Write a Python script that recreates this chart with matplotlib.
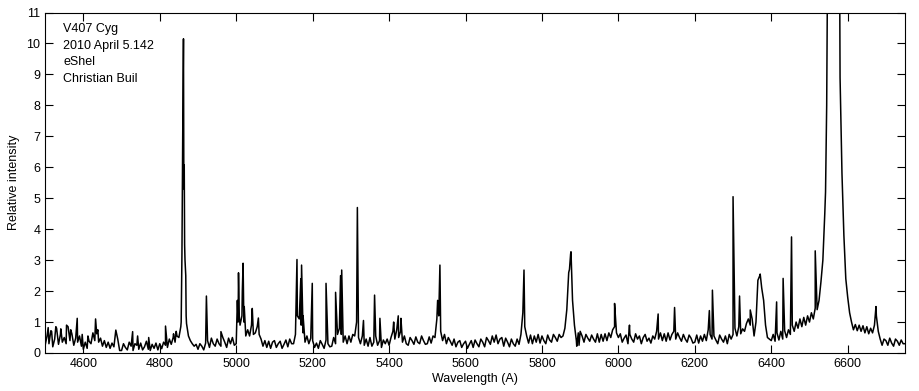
import matplotlib
matplotlib.use("Agg")
import matplotlib.pyplot as plt
import numpy as np

# Spectre V407 Cyg
WL_START, WL_END, WL_STEP = 4500, 6750, 5

# continuum + raies larges, un point tous les 5 A (10 valeurs par ligne = 50 A)
continuum = [
    0.25, 0.55, 0.30, 0.72, 0.20, 0.45, 0.80, 0.28, 0.60, 0.35,  # 4500
    0.50, 0.30, 0.85, 0.40, 0.62, 0.25, 0.48, 0.35, 0.55, 0.22,  # 4550
    0.12, 0.35, 0.15, 0.38, 0.30, 0.65, 0.40, 0.62, 0.35, 0.48,  # 4600
    0.22, 0.40, 0.18, 0.35, 0.15, 0.32, 0.20, 0.74, 0.45, 0.08,  # 4650
    0.08, 0.30, 0.18, 0.10, 0.35, 0.22, 0.08, 0.30, 0.25, 0.12,  # 4700
    0.32, 0.10, 0.20, 0.38, 0.12, 0.08, 0.28, 0.15, 0.32, 0.10,  # 4750
    0.30, 0.14, 0.35, 0.25, 0.18, 0.45, 0.28, 0.50, 0.35, 0.55,  # 4800
    0.50, 0.85, 7.00, 3.50, 0.95, 0.55, 0.40, 0.30, 0.22, 0.28,  # 4850
    0.12, 0.30, 0.22, 0.10, 0.32, 0.40, 0.18, 0.48, 0.30, 0.22,  # 4900
    0.45, 0.30, 0.22, 0.50, 0.35, 0.18, 0.48, 0.30, 0.50, 0.25,  # 4950
    0.30, 1.00, 0.90, 1.20, 1.00, 0.55, 0.75, 0.55, 0.90, 0.60,  # 5000
    0.65, 0.85, 0.60, 0.45, 0.22, 0.40, 0.18, 0.38, 0.15, 0.35,  # 5050
    0.40, 0.18, 0.30, 0.38, 0.15, 0.28, 0.42, 0.20, 0.45, 0.30,  # 5100
    0.30, 0.60, 1.20, 1.10, 0.90, 0.65, 0.35, 0.55, 0.30, 0.48,  # 5150
    0.40, 0.18, 0.32, 0.15, 0.40, 0.28, 0.15, 0.42, 0.30, 0.20,  # 5200
    0.22, 0.50, 0.30, 0.60, 0.80, 0.60, 0.35, 0.55, 0.30, 0.55,  # 5250
    0.35, 0.60, 0.55, 1.00, 0.50, 0.30, 0.55, 0.25, 0.45, 0.22,  # 5300
    0.50, 0.22, 0.35, 0.55, 0.25, 0.40, 0.18, 0.42, 0.30, 0.45,  # 5350
    0.25, 0.50, 0.70, 0.45, 0.75, 0.50, 0.70, 0.35, 0.55, 0.30,  # 5400
    0.25, 0.50, 0.40, 0.28, 0.52, 0.35, 0.30, 0.55, 0.40, 0.28,  # 5450
    0.30, 0.52, 0.32, 0.55, 0.50, 1.10, 1.20, 0.70, 0.40, 0.60,  # 5500
    0.30, 0.50, 0.38, 0.25, 0.45, 0.20, 0.35, 0.40, 0.18, 0.30,  # 5550
    0.38, 0.15, 0.28, 0.40, 0.18, 0.42, 0.30, 0.20, 0.45, 0.35,  # 5600
    0.20, 0.50, 0.40, 0.28, 0.55, 0.35, 0.58, 0.30, 0.45, 0.50,  # 5650
    0.22, 0.48, 0.35, 0.20, 0.45, 0.30, 0.22, 0.45, 0.28, 0.60,  # 5700
    1.30, 0.85, 0.55, 0.32, 0.58, 0.30, 0.55, 0.35, 0.60, 0.32,  # 5750
    0.55, 0.40, 0.30, 0.58, 0.42, 0.35, 0.60, 0.50, 0.38, 0.60,  # 5800
    0.50, 0.55, 0.80, 1.40, 2.60, 3.20, 1.70, 0.90, 0.40, 0.65,  # 5850
    0.70, 0.55, 0.35, 0.60, 0.48, 0.38, 0.58, 0.45, 0.35, 0.62,  # 5900
    0.35, 0.60, 0.38, 0.62, 0.40, 0.65, 0.50, 0.75, 0.85, 0.65,  # 5950
    0.50, 0.62, 0.35, 0.48, 0.58, 0.30, 0.60, 0.45, 0.35, 0.62,  # 6000
    0.45, 0.55, 0.30, 0.50, 0.60, 0.38, 0.48, 0.32, 0.55, 0.45,  # 6050
    0.70, 0.45, 0.65, 0.40, 0.62, 0.38, 0.65, 0.42, 0.60, 0.70,  # 6100
    0.45, 0.65, 0.50, 0.38, 0.60, 0.45, 0.35, 0.58, 0.48, 0.32,  # 6150
    0.35, 0.58, 0.32, 0.55, 0.38, 0.60, 0.40, 0.75, 0.60, 0.45,  # 6200
    0.55, 0.42, 0.30, 0.58, 0.45, 0.35, 0.55, 0.30, 0.60, 0.45,  # 6250
    0.60, 0.80, 0.55, 0.85, 0.62, 0.78, 0.70, 0.95, 1.10, 0.90,  # 6300
    1.10, 0.55, 1.00, 2.35, 2.50, 2.10, 1.70, 0.90, 0.50, 0.45,  # 6350
    0.40, 0.60, 0.38, 0.65, 0.42, 0.70, 0.45, 0.72, 0.50, 0.75,  # 6400
    0.60, 0.90, 0.70, 1.00, 0.80, 1.10, 0.85, 1.15, 0.90, 1.20,  # 6450
    1.00, 1.30, 1.10, 1.45, 1.40, 1.70, 2.30, 3.00, 4.50, 8.00,  # 6500
    12.0, 12.0, 12.0, 12.0, 12.0, 12.0, 8.90, 5.80, 3.80, 2.40,  # 6550
    1.80, 1.30, 1.00, 0.75, 0.92, 0.72, 0.90, 0.70, 0.88, 0.65,  # 6600
    0.85, 0.62, 0.80, 0.65, 0.90, 1.20, 0.70, 0.45, 0.25, 0.45,  # 6650
    0.40, 0.25, 0.48, 0.32, 0.22, 0.45, 0.38, 0.25, 0.42, 0.30,  # 6700
    0.30,                                                        # 6750
]

# raies fines (longueur d'onde, intensite)
raies_wl = [4508, 4517, 4528, 4541, 4556, 4567, 4584, 4597, 4612, 4632,
            4638, 4729, 4742, 4771, 4815, 4836, 4843,
            4856, 4858, 4862, 4863, 4864, 4866, 4868, 4869,
            4922, 4960, 5003, 5006, 5008, 5016, 5018, 5021, 5042, 5058,
            5159, 5169, 5171, 5175, 5199, 5235, 5260, 5273, 5276, 5317,
            5333, 5362, 5376, 5412, 5424, 5431, 5527, 5533, 5753,
            5872, 5876, 5891, 5897, 5990, 6029, 6104, 6147, 6238, 6246,
            6300, 6317, 6345, 6371, 6414, 6431, 6453, 6515,
            6542, 6547, 6579, 6674]
raies_val = [0.82, 0.70, 0.85, 0.78, 0.90, 0.75, 1.12, 0.60, 0.55, 1.10,
             0.75, 0.69, 0.55, 0.50, 0.87, 0.62, 0.70,
             1.00, 3.20, 10.15, 5.30, 6.07, 3.00, 2.50, 1.20,
             1.84, 0.69, 1.70, 2.59, 1.20, 2.00, 2.90, 1.50, 1.44, 1.13,
             3.02, 2.40, 2.84, 1.20, 2.25, 2.25, 1.96, 2.50, 2.68, 4.70,
             1.05, 1.87, 1.12, 1.00, 1.20, 1.12, 1.70, 2.84, 2.68,
             2.70, 3.27, 0.22, 0.25, 1.60, 0.90, 1.26, 1.47, 1.37, 2.03,
             5.05, 1.84, 1.39, 2.55, 1.65, 2.41, 3.75, 3.30,
             5.20, 12.0, 12.0, 1.50]

x_ticks = [4600, 4800, 5000, 5200, 5400, 5600, 5800, 6000, 6200, 6400, 6600]
y_ticks = list(range(0, 12))
info = ["V407 Cyg", "2010 April 5.142", "eShel", "Christian Buil"]

# assemblage du spectre
wl_cont = np.arange(WL_START, WL_END + 1, WL_STEP)
wl = np.concatenate([wl_cont, raies_wl])
flux = np.concatenate([continuum, raies_val])
ordre = np.argsort(wl, kind="stable")
wl, flux = wl[ordre], flux[ordre]

plt.rcParams['font.family'] = ['Liberation Sans', 'DejaVu Sans']
plt.rcParams['font.size'] = 9

fig = plt.figure(figsize=(9.19, 3.91), dpi=100)
ax = fig.add_axes([0.0491, 0.0972, 0.9357, 0.8708])
ax.plot(wl, flux, color='black', linewidth=1.1)

ax.set_xlim(WL_START, WL_END)
ax.set_ylim(0, 11)
ax.set_xticks(x_ticks)
ax.set_yticks(y_ticks)
ax.tick_params(direction='in', length=5.8, width=0.8, top=True, right=True,
               labelsize=9, colors='black')
for s in ax.spines.values():
    s.set_linewidth(0.8)

ax.set_xlabel("Wavelength (A)", fontsize=9, labelpad=2)
ax.set_ylabel("Relative intensity", fontsize=9)
ax.yaxis.set_label_coords(-0.029, 0.5)

ax.text(0.021, 0.968, "\n".join(info), transform=ax.transAxes,
        va='top', ha='left', fontsize=9, linespacing=1.5)

fig.savefig("out.png", dpi=100)
